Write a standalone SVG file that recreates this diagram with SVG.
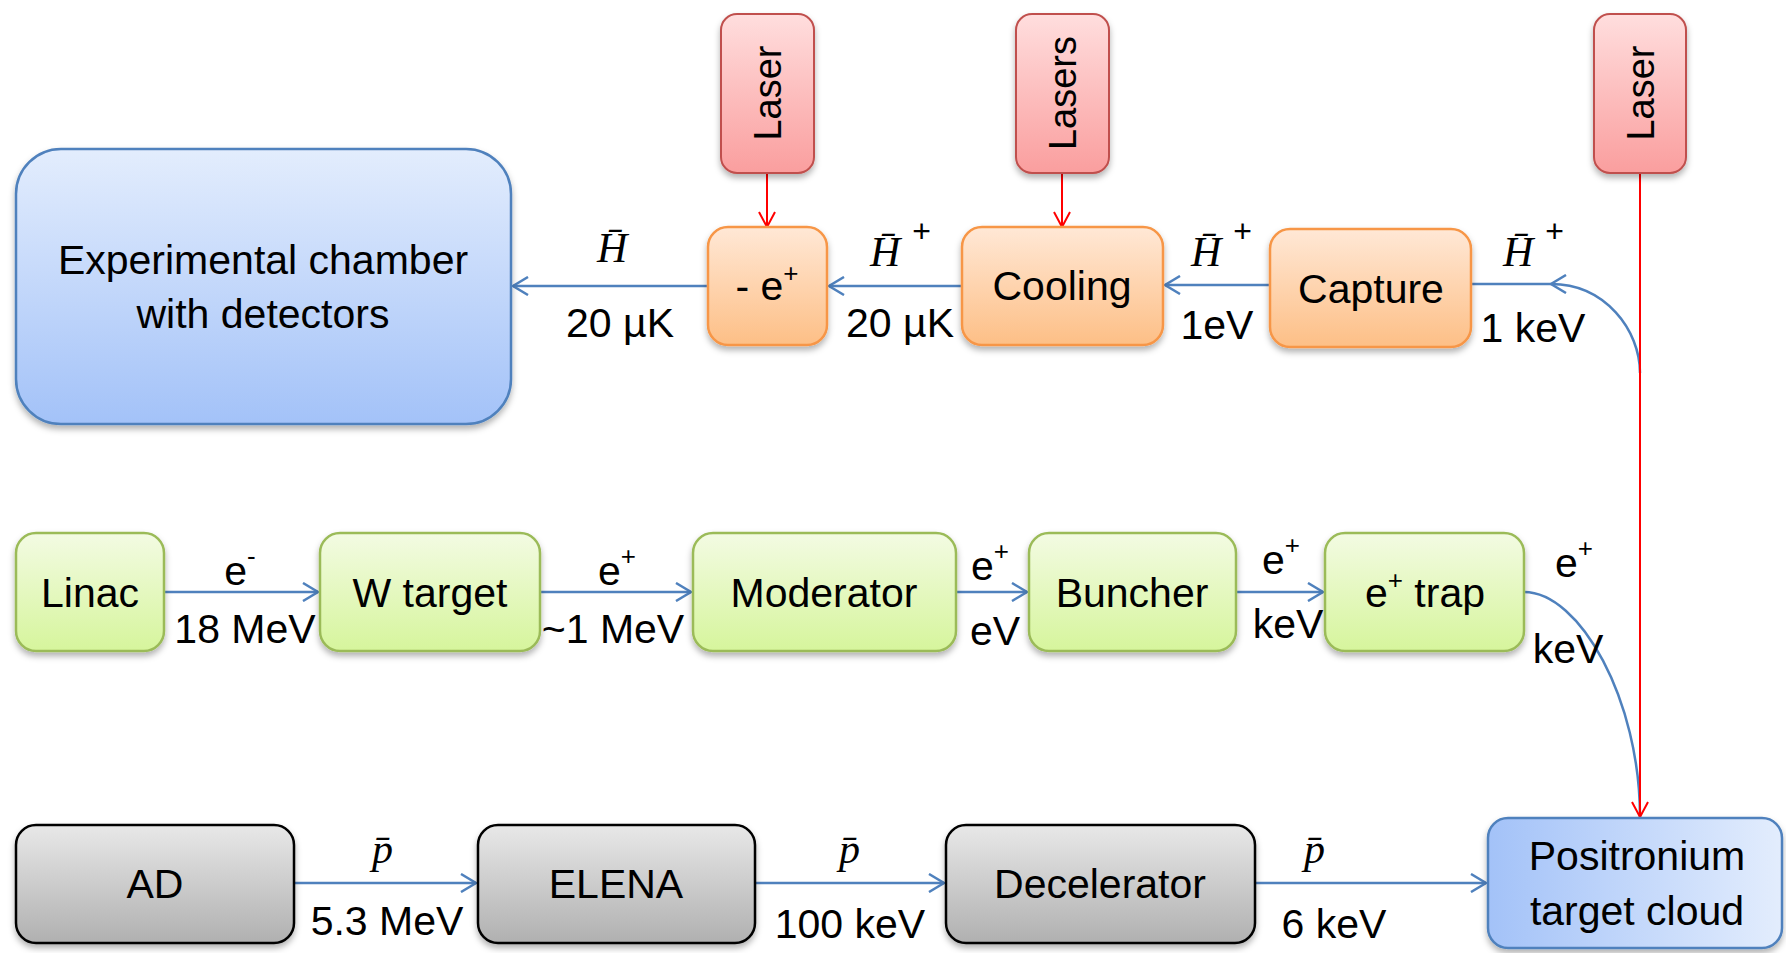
<svg xmlns="http://www.w3.org/2000/svg" width="1786" height="953" viewBox="0 0 1786 953">
<style>
.t{font-family:"Liberation Sans",Arial,sans-serif;font-size:41px;fill:#000;text-anchor:middle}
.l{font-family:"Liberation Sans",Arial,sans-serif;font-size:38px;fill:#000;text-anchor:middle}
.m{font-family:"Liberation Serif","Times New Roman",serif;font-style:italic;font-size:42px;fill:#000}
.sup{font-size:26px}
.blue{fill:none;stroke:#4f81bd;stroke-width:2.5}
.red{fill:none;stroke:#ff0000;stroke-width:2}
</style>
<defs>
<linearGradient id="gRed" x1="0" y1="0" x2="0" y2="1"><stop offset="0" stop-color="#ffdede"/><stop offset="1" stop-color="#fa9e9e"/></linearGradient>
<linearGradient id="gOr" x1="0" y1="0" x2="0" y2="1"><stop offset="0" stop-color="#ffe8d6"/><stop offset="1" stop-color="#fdbf86"/></linearGradient>
<linearGradient id="gGr" x1="0" y1="0" x2="0" y2="1"><stop offset="0" stop-color="#f3fbe3"/><stop offset="1" stop-color="#d6f59c"/></linearGradient>
<linearGradient id="gGy" x1="0" y1="0" x2="0" y2="1"><stop offset="0" stop-color="#e8e8e8"/><stop offset="1" stop-color="#b0b0b0"/></linearGradient>
<linearGradient id="gBl" x1="0" y1="0" x2="0" y2="1"><stop offset="0" stop-color="#e3edfd"/><stop offset="1" stop-color="#a3c2f8"/></linearGradient>
<linearGradient id="gBh" x1="0" y1="0" x2="1" y2="0"><stop offset="0" stop-color="#a3c2f8"/><stop offset="1" stop-color="#e3edfd"/></linearGradient>
<filter id="sh" x="-10%" y="-10%" width="120%" height="130%"><feDropShadow dx="0" dy="4" stdDeviation="3" flood-color="#000" flood-opacity="0.3"/></filter>
<marker id="ab" viewBox="0 0 20 20" refX="18" refY="10" markerWidth="20" markerHeight="20" markerUnits="userSpaceOnUse" orient="auto"><path d="M3,1 L18,10 L3,19" fill="none" stroke="#4f81bd" stroke-width="2.5"/></marker>
<marker id="ar" viewBox="0 0 20 20" refX="18" refY="10" markerWidth="20" markerHeight="20" markerUnits="userSpaceOnUse" orient="auto"><path d="M3,2 L18,10 L3,18" fill="none" stroke="#ff0000" stroke-width="2"/></marker>
</defs>
<rect width="1786" height="953" fill="#fff"/>

<g id="connectors">
<line class="blue" x1="708" y1="286" x2="513" y2="286" marker-end="url(#ab)"/>
<line class="blue" x1="962" y1="286" x2="829" y2="286" marker-end="url(#ab)"/>
<line class="blue" x1="1270" y1="285" x2="1165" y2="285" marker-end="url(#ab)"/>
<line class="blue" x1="1472" y1="284" x2="1551" y2="284"/>
<path class="blue" d="M1640,373 C1640,330 1605,284 1551,284" marker-end="url(#ab)"/>
<line class="blue" x1="164" y1="592" x2="318" y2="592" marker-end="url(#ab)"/>
<line class="blue" x1="540" y1="592" x2="691" y2="592" marker-end="url(#ab)"/>
<line class="blue" x1="956" y1="592" x2="1027" y2="592" marker-end="url(#ab)"/>
<line class="blue" x1="1236" y1="592" x2="1323" y2="592" marker-end="url(#ab)"/>
<path class="blue" d="M1524,592 C1580,592 1640,700 1640,817"/>
<line class="blue" x1="294" y1="883" x2="476" y2="883" marker-end="url(#ab)"/>
<line class="blue" x1="755" y1="883" x2="944" y2="883" marker-end="url(#ab)"/>
<line class="blue" x1="1255" y1="883" x2="1486" y2="883" marker-end="url(#ab)"/>
<line class="red" x1="767" y1="173" x2="767" y2="227" marker-end="url(#ar)"/>
<line class="red" x1="1062" y1="173" x2="1062" y2="227" marker-end="url(#ar)"/>
<line class="red" x1="1640" y1="173" x2="1640" y2="817" marker-end="url(#ar)"/>
</g>

<g id="edge-labels">
<text class="m" x="597" y="262">H̄</text>
<text class="t" x="620" y="337">20 µK</text>
<text class="m" x="870" y="266">H̄<tspan font-style="normal" font-family="Liberation Sans, Arial, sans-serif" font-size="32" dx="12" dy="-24">+</tspan></text>
<text class="t" x="900" y="337">20 µK</text>
<text class="m" x="1191" y="266">H̄<tspan font-style="normal" font-family="Liberation Sans, Arial, sans-serif" font-size="32" dx="12" dy="-24">+</tspan></text>
<text class="t" x="1217" y="339">1eV</text>
<text class="m" x="1503" y="266">H̄<tspan font-style="normal" font-family="Liberation Sans, Arial, sans-serif" font-size="32" dx="12" dy="-24">+</tspan></text>
<text class="t" x="1533" y="342">1 keV</text>
<text class="t" x="240" y="585">e<tspan class="sup" dy="-20">-</tspan></text>
<text class="t" x="245" y="643">18 MeV</text>
<text class="t" x="617" y="585">e<tspan class="sup" dy="-20">+</tspan></text>
<text class="t" x="613" y="643">~1 MeV</text>
<text class="t" x="990" y="580">e<tspan class="sup" dy="-20">+</tspan></text>
<text class="t" x="995" y="645">eV</text>
<text class="t" x="1281" y="574">e<tspan class="sup" dy="-20">+</tspan></text>
<text class="t" x="1288" y="638">keV</text>
<text class="t" x="1574" y="577">e<tspan class="sup" dy="-20">+</tspan></text>
<text class="t" x="1568" y="663">keV</text>
<text class="m" x="372" y="863">p̄</text>
<text class="t" x="387" y="935">5.3 MeV</text>
<text class="m" x="839" y="863">p̄</text>
<text class="t" x="850" y="938">100 keV</text>
<text class="m" x="1304" y="863">p̄</text>
<text class="t" x="1334" y="938">6 keV</text>
</g>

<g id="laser1"><rect x="721" y="14" width="93" height="159" rx="16" fill="url(#gRed)" stroke="#c0504d" stroke-width="2" filter="url(#sh)"/><text class="l" transform="translate(781,93) rotate(-90)">Laser</text></g>
<g id="lasers"><rect x="1016" y="14" width="93" height="159" rx="16" fill="url(#gRed)" stroke="#c0504d" stroke-width="2" filter="url(#sh)"/><text class="l" transform="translate(1076,93) rotate(-90)">Lasers</text></g>
<g id="laser3"><rect x="1594" y="14" width="92" height="159" rx="16" fill="url(#gRed)" stroke="#c0504d" stroke-width="2" filter="url(#sh)"/><text class="l" transform="translate(1654,93) rotate(-90)">Laser</text></g>

<g id="chamber"><rect x="16" y="149" width="495" height="275" rx="45" fill="url(#gBl)" stroke="#4f81bd" stroke-width="2.5" filter="url(#sh)"/><text class="t" x="263" y="274">Experimental chamber</text><text class="t" x="263" y="328">with detectors</text></g>
<g id="remove-e"><rect x="708" y="227" width="119" height="118" rx="20" fill="url(#gOr)" stroke="#f79646" stroke-width="2.5" filter="url(#sh)"/><text class="t" x="767" y="300">- e<tspan class="sup" dy="-18">+</tspan></text></g>
<g id="cooling"><rect x="962" y="227" width="201" height="118" rx="20" fill="url(#gOr)" stroke="#f79646" stroke-width="2.5" filter="url(#sh)"/><text class="t" x="1062" y="300">Cooling</text></g>
<g id="capture"><rect x="1270" y="229" width="201" height="118" rx="20" fill="url(#gOr)" stroke="#f79646" stroke-width="2.5" filter="url(#sh)"/><text class="t" x="1371" y="303">Capture</text></g>

<g id="linac"><rect x="16" y="533" width="148" height="118" rx="20" fill="url(#gGr)" stroke="#9bbb59" stroke-width="2.5" filter="url(#sh)"/><text class="t" x="90" y="607">Linac</text></g>
<g id="wtarget"><rect x="320" y="533" width="220" height="118" rx="20" fill="url(#gGr)" stroke="#9bbb59" stroke-width="2.5" filter="url(#sh)"/><text class="t" x="430" y="607">W target</text></g>
<g id="moderator"><rect x="693" y="533" width="263" height="118" rx="20" fill="url(#gGr)" stroke="#9bbb59" stroke-width="2.5" filter="url(#sh)"/><text class="t" x="824" y="607">Moderator</text></g>
<g id="buncher"><rect x="1029" y="533" width="207" height="118" rx="20" fill="url(#gGr)" stroke="#9bbb59" stroke-width="2.5" filter="url(#sh)"/><text class="t" x="1132" y="607">Buncher</text></g>
<g id="etrap"><rect x="1325" y="533" width="199" height="118" rx="20" fill="url(#gGr)" stroke="#9bbb59" stroke-width="2.5" filter="url(#sh)"/><text class="t" x="1425" y="607">e<tspan class="sup" dy="-18">+</tspan><tspan dy="18"> trap</tspan></text></g>

<g id="ad"><rect x="16" y="825" width="278" height="118" rx="20" fill="url(#gGy)" stroke="#000" stroke-width="2.5" filter="url(#sh)"/><text class="t" x="155" y="898">AD</text></g>
<g id="elena"><rect x="478" y="825" width="277" height="118" rx="20" fill="url(#gGy)" stroke="#000" stroke-width="2.5" filter="url(#sh)"/><text class="t" x="616" y="898">ELENA</text></g>
<g id="decelerator"><rect x="946" y="825" width="309" height="118" rx="20" fill="url(#gGy)" stroke="#000" stroke-width="2.5" filter="url(#sh)"/><text class="t" x="1100" y="898">Decelerator</text></g>
<g id="positronium"><rect x="1488" y="818" width="294" height="130" rx="20" fill="url(#gBh)" stroke="#4f81bd" stroke-width="2.5" filter="url(#sh)"/><text class="t" x="1637" y="870">Positronium</text><text class="t" x="1637" y="925">target cloud</text></g>
</svg>
